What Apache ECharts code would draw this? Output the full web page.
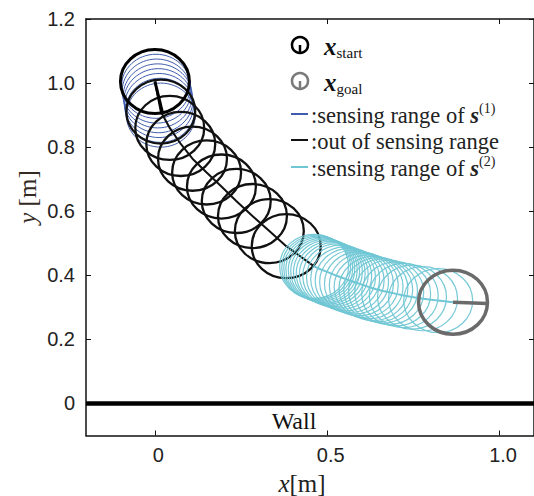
<!DOCTYPE html>
<html><head><meta charset="utf-8">
<script src="https://cdn.jsdelivr.net/npm/echarts@6/dist/echarts.min.js"></script>
<style>html,body{margin:0;padding:0;background:#fff}#c{width:534px;height:496px}</style>
</head><body><div id="c"></div>
<script>
// ---- axis ticks ----
const xTicks = [0, 0.5, 1.0];
const xTickLabels = ['0', '0.5', '1.0'];
const yTicks = [0, 0.2, 0.4, 0.6, 0.8, 1.0, 1.2];
const yTickLabels = ['0', '0.2', '0.4', '0.6', '0.8', '1.0', '1.2'];

// ---- robot geometry ----
const sensorRadius = 0.1;
const startPos = [0.0, 1.005];
const startHeadingEnd = [0.022, 0.907];
const goalPos = [0.865, 0.316];
const goalHeadingEnd = [0.965, 0.312];

// sensing range of s(1)
const blueX = [0.000, 0.003, 0.005, 0.008, 0.010, 0.012, 0.015, 0.017];
const blueY = [1.005, 0.990, 0.975, 0.960, 0.945, 0.930, 0.915, 0.900];

// out of sensing range
const blackX = [0.017, 0.043, 0.075, 0.109, 0.150, 0.193, 0.236, 0.283, 0.332, 0.381];
const blackY = [0.911, 0.860, 0.810, 0.764, 0.721, 0.677, 0.632, 0.585, 0.538, 0.491];

// sensing range of s(2)
const cyanX = [0.462, 0.468, 0.474, 0.480, 0.487, 0.494, 0.502, 0.510, 0.519, 0.529,
               0.540, 0.552, 0.565, 0.578, 0.592, 0.606, 0.620, 0.634, 0.648, 0.662,
               0.680, 0.700, 0.722, 0.746, 0.778, 0.822, 0.865];
const cyanY = [0.428, 0.425, 0.422, 0.419, 0.416, 0.413, 0.410, 0.406, 0.402, 0.398,
               0.394, 0.389, 0.384, 0.379, 0.374, 0.369, 0.364, 0.359, 0.355, 0.351,
               0.347, 0.342, 0.337, 0.332, 0.327, 0.321, 0.316];

// wall
const wallX = [-0.2, 1.1];
const wallY = [0, 0];

const BLUE = '#3f5cae', CYAN = '#6fc6d4', BLACK = '#111', GOAL = '#6a6a6a';
const SERIF = '"Liberation Serif","DejaVu Serif",serif';
const SANS = '"Liberation Sans",Arial,sans-serif';

const pairs = (xs, ys) => xs.map((x, i) => [x, ys[i]]);

function circleRenderer(color, width, opacity) {
  return function (params, api) {
    const c = api.coord([api.value(0), api.value(1)]);
    const s = api.size([sensorRadius, sensorRadius]);
    return {
      type: 'ellipse',
      shape: { cx: c[0], cy: c[1], rx: s[0], ry: s[1] },
      style: { fill: 'none', stroke: color, lineWidth: width, opacity: opacity }
    };
  };
}

const blackPath = [startPos].concat(pairs(blackX, blackY), [[cyanX[0], cyanY[0]]]);
const cyanPath = pairs(cyanX, cyanY);

const chart = echarts.init(document.getElementById('c'), null, { renderer: 'svg' });

const axisLine = { show: true, onZero: false, lineStyle: { color: BLACK, width: 1.5 } };
const tickStyle = { show: true, inside: true, length: 5, lineStyle: { color: BLACK, width: 1 } };

const legendRich = {
  t: { fontSize: 22.5, fontFamily: SERIF, fill: '#222', lineHeight: 26, verticalAlign: 'bottom' },
  s: { fontSize: 22.5, fontFamily: SERIF, fontStyle: 'italic', fontWeight: 'bold', fill: '#222', lineHeight: 26, verticalAlign: 'bottom' },
  sup: { fontSize: 14, fontFamily: SERIF, fill: '#222', lineHeight: 14, verticalAlign: 'top' }
};
const subRich = {
  x: { fontSize: 25, fontStyle: 'italic', fontWeight: 'bold', fontFamily: SERIF, fill: '#111', lineHeight: 28, verticalAlign: 'middle' },
  sub: { fontSize: 15, fontFamily: SERIF, fill: '#111', lineHeight: 15, verticalAlign: 'bottom' }
};

const option = {
  animation: false,
  backgroundColor: '#fff',
  grid: { left: 86, top: 19, width: 450, height: 416.5, containLabel: false },
  xAxis: [
    { type: 'value', position: 'bottom', min: -0.2, max: 1.1,
      axisLine: axisLine, splitLine: { show: false },
      axisTick: Object.assign({ customValues: xTicks }, tickStyle),
      axisLabel: { customValues: xTicks, margin: 9, color: '#222', fontSize: 20, fontFamily: SANS,
        padding: [0, 0, 0, 7],
        formatter: v => xTickLabels[xTicks.findIndex(t => Math.abs(t - v) < 1e-9)] } },
    { type: 'value', position: 'top', min: -0.2, max: 1.1,
      axisLine: axisLine, splitLine: { show: false },
      axisTick: Object.assign({ customValues: xTicks }, tickStyle),
      axisLabel: { show: false } }
  ],
  yAxis: [
    { type: 'value', position: 'left', min: -0.1, max: 1.2,
      axisLine: axisLine, splitLine: { show: false },
      axisTick: Object.assign({ customValues: yTicks }, tickStyle),
      axisLabel: { customValues: yTicks, margin: 11, color: '#222', fontSize: 20, fontFamily: SANS,
        formatter: v => yTickLabels[yTicks.findIndex(t => Math.abs(t - v) < 1e-9)] } },
    { type: 'value', position: 'right', min: -0.1, max: 1.2,
      axisLine: axisLine, splitLine: { show: false },
      axisTick: Object.assign({ customValues: yTicks }, tickStyle),
      axisLabel: { show: false } }
  ],
  series: [
    { name: 'sensing range of s(1)', type: 'custom', renderItem: circleRenderer(BLUE, 1, 1),
      data: pairs(blueX, blueY), z: 2 },
    { name: 'out of sensing range', type: 'custom', renderItem: circleRenderer(BLACK, 2.3, 1),
      data: pairs(blackX, blackY), z: 3 },
    { name: 'path (out of range)', type: 'line', data: blackPath, showSymbol: false,
      lineStyle: { color: BLACK, width: 2 }, z: 4 },
    { name: 'sensing range of s(2)', type: 'custom', renderItem: circleRenderer(CYAN, 1.2, 0.95),
      data: cyanPath, z: 5 },
    { name: 'path (s2)', type: 'line', data: cyanPath, showSymbol: false,
      lineStyle: { color: CYAN, width: 2 }, z: 6 },
    { name: 'start', type: 'custom', renderItem: circleRenderer('#000', 3, 1),
      data: [startPos], z: 7 },
    { name: 'start heading', type: 'line', data: [startPos, startHeadingEnd], showSymbol: false,
      lineStyle: { color: '#000', width: 3 }, z: 7 },
    { name: 'goal', type: 'custom', renderItem: circleRenderer(GOAL, 3.5, 1),
      data: [goalPos], z: 8 },
    { name: 'goal heading', type: 'line', data: [goalPos, goalHeadingEnd], showSymbol: false,
      lineStyle: { color: GOAL, width: 3.5 }, z: 8 },
    { name: 'wall', type: 'line', data: pairs(wallX, wallY), showSymbol: false,
      lineStyle: { color: '#000', width: 4.5 }, z: 9 }
  ],
  graphic: [
    // axis titles
    { type: 'text', x: 302, y: 483, z: 20,
      style: { text: '{i|x}[m]', fontSize: 25, fontFamily: SERIF, fill: '#222',
        align: 'center', verticalAlign: 'middle',
        rich: { i: { fontStyle: 'italic', fontSize: 25, fontFamily: SERIF, fill: '#222' } } } },
    { type: 'text', x: 27, y: 197, rotation: Math.PI / 2, z: 20,
      style: { text: '{i|y} [m]', fontSize: 25, fontFamily: SERIF, fill: '#332a24',
        align: 'center', verticalAlign: 'middle',
        rich: { i: { fontStyle: 'italic', fontSize: 25, fontFamily: SERIF, fill: '#332a24' } } } },
    { type: 'text', x: 294, y: 421, z: 20,
      style: { text: 'Wall', fontSize: 24, fontFamily: SERIF, fill: '#111', align: 'center', verticalAlign: 'middle' } },
    // legend: start
    { type: 'circle', shape: { cx: 300, cy: 45, r: 8 }, z: 20,
      style: { fill: 'none', stroke: '#000', lineWidth: 2.5 } },
    { type: 'line', shape: { x1: 300, y1: 45, x2: 300, y2: 52 }, z: 20,
      style: { stroke: '#000', lineWidth: 2.5 } },
    { type: 'text', x: 324, y: 46, z: 20,
      style: { text: '{x|x}{sub|start}', align: 'left', verticalAlign: 'middle', rich: subRich } },
    // legend: goal
    { type: 'circle', shape: { cx: 300, cy: 81, r: 8 }, z: 20,
      style: { fill: 'none', stroke: '#7a7a7a', lineWidth: 2.5 } },
    { type: 'line', shape: { x1: 300, y1: 81, x2: 300, y2: 88 }, z: 20,
      style: { stroke: '#7a7a7a', lineWidth: 2.5 } },
    { type: 'text', x: 324, y: 82, z: 20,
      style: { text: '{x|x}{sub|goal}', align: 'left', verticalAlign: 'middle', rich: subRich } },
    // legend: lines
    { type: 'line', shape: { x1: 291, y1: 114, x2: 308, y2: 114 }, z: 20, style: { stroke: BLUE, lineWidth: 2 } },
    { type: 'text', x: 311, y: 114, z: 20,
      style: { text: '{t|:sensing range of }{s|s}{sup|(1)}', align: 'left', verticalAlign: 'middle', rich: legendRich } },
    { type: 'line', shape: { x1: 291, y1: 140, x2: 308, y2: 140 }, z: 20, style: { stroke: BLACK, lineWidth: 2 } },
    { type: 'text', x: 311, y: 140, z: 20,
      style: { text: '{t|:out of sensing range}', align: 'left', verticalAlign: 'middle', rich: legendRich } },
    { type: 'line', shape: { x1: 291, y1: 167, x2: 308, y2: 167 }, z: 20, style: { stroke: CYAN, lineWidth: 2 } },
    { type: 'text', x: 311, y: 167, z: 20,
      style: { text: '{t|:sensing range of }{s|s}{sup|(2)}', align: 'left', verticalAlign: 'middle', rich: legendRich } }
  ]
};
chart.setOption(option);
</script>
</body></html>
